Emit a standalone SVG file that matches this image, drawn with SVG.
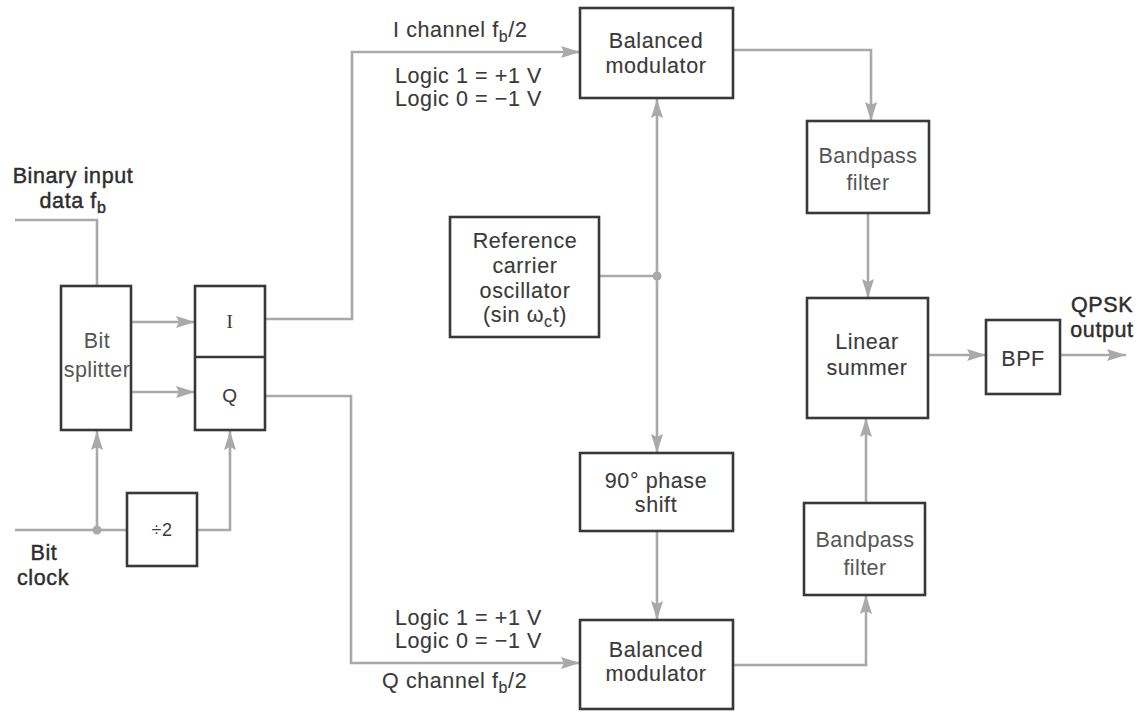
<svg xmlns="http://www.w3.org/2000/svg" width="1146" height="712" viewBox="0 0 1146 712">
<defs>
<style>
.box{fill:#fff;stroke:#383838;stroke-width:2.6}
.wire{fill:none;stroke:#a9a9a9;stroke-width:2.6}
.dot{fill:#a9a9a9}
text{font-family:"Liberation Sans",Arial,sans-serif;font-size:21.5px;letter-spacing:0.6px;fill:#3a3a3a;stroke:#3a3a3a;stroke-width:0.12}
.c{text-anchor:middle}
.hv{fill:#2e2e2e;stroke:#2e2e2e;stroke-width:0.45}
.lt{fill:#555;stroke:none;letter-spacing:0.4px}
.sub{font-size:16px}
</style>
<marker id="ah" markerUnits="userSpaceOnUse" markerWidth="22" markerHeight="14" refX="19" refY="6" orient="auto">
<path d="M0,0 L19,6 L0,12 L3,6 z" fill="#a9a9a9"/>
</marker>
</defs>
<rect width="1146" height="712" fill="#fff"/>

<g id="connectors">
<path class="wire" d="M15,220 H97 V286"/>
<path class="wire" d="M131,322 H195" marker-end="url(#ah)"/>
<path class="wire" d="M131,392 H195" marker-end="url(#ah)"/>
<path class="wire" d="M15,530 H127"/>
<path class="wire" d="M97,530 V431" marker-end="url(#ah)"/>
<circle class="dot" cx="97" cy="530" r="4.5"/>
<path class="wire" d="M197,530 H230 V431" marker-end="url(#ah)"/>
<path class="wire" d="M265,319 H352 V52 H580" marker-end="url(#ah)"/>
<path class="wire" d="M265,396 H351 V663 H580" marker-end="url(#ah)"/>
<path class="wire" d="M599,276 H657"/>
<circle class="dot" cx="657" cy="276" r="4.5"/>
<path class="wire" d="M657,276 V99" marker-end="url(#ah)"/>
<path class="wire" d="M657,276 V453" marker-end="url(#ah)"/>
<path class="wire" d="M657,531 V620" marker-end="url(#ah)"/>
<path class="wire" d="M733,50 H871 V121" marker-end="url(#ah)"/>
<path class="wire" d="M868,213 V298" marker-end="url(#ah)"/>
<path class="wire" d="M866,503 V418" marker-end="url(#ah)"/>
<path class="wire" d="M733,665 H866 V595" marker-end="url(#ah)"/>
<path class="wire" d="M928,355 H986" marker-end="url(#ah)"/>
<path class="wire" d="M1060,355 H1126" marker-end="url(#ah)"/>
</g>

<g id="labels">
<text class="c hv" x="73" y="183">Binary input</text>
<text class="c hv" x="73" y="208">data f<tspan class="sub" dy="5">b</tspan></text>
<text class="c hv" x="44" y="560">Bit</text>
<text class="c hv" x="43" y="585">clock</text>
<text x="393" y="37">I channel f<tspan class="sub" dy="5">b</tspan><tspan dy="-5">/2</tspan></text>
<text x="395" y="83">Logic 1 = +1 V</text>
<text x="395" y="106">Logic 0 = −1 V</text>
<text x="395" y="625">Logic 1 = +1 V</text>
<text x="395" y="648">Logic 0 = −1 V</text>
<text x="382" y="688">Q channel f<tspan class="sub" dy="5">b</tspan><tspan dy="-5">/2</tspan></text>
<text class="c hv" x="1102" y="312">QPSK</text>
<text class="c hv" x="1102" y="337">output</text>
</g>

<g id="bit-splitter">
<rect class="box" x="61" y="286" width="70" height="144"/>
<text class="c lt" x="97" y="348">Bit</text>
<text class="c lt" x="97" y="377">splitter</text>
</g>

<g id="iq-register">
<rect class="box" x="195" y="286" width="70" height="144"/>
<line x1="195" y1="357" x2="265" y2="357" stroke="#383838" stroke-width="2.6"/>
<text class="c" x="230" y="328" style="font-family:'Liberation Serif','Times New Roman',serif;font-size:19px">I</text>
<text class="c" x="230" y="402" style="font-size:19px">Q</text>
</g>

<g id="divide-by-2">
<rect class="box" x="127" y="493" width="70" height="73"/>
<text class="c" x="162" y="536" style="font-size:18px;stroke:none">÷2</text>
</g>

<g id="balanced-modulator-i">
<rect class="box" x="580" y="8" width="153" height="90"/>
<text class="c" x="656" y="48">Balanced</text>
<text class="c" x="656" y="73">modulator</text>
</g>

<g id="reference-oscillator">
<rect class="box" x="450" y="217" width="149" height="120"/>
<text class="c" x="525" y="248">Reference</text>
<text class="c" x="525" y="273">carrier</text>
<text class="c" x="525" y="298">oscillator</text>
<text class="c" x="525" y="322">(sin ω<tspan class="sub" dy="5">c</tspan><tspan dy="-5">t)</tspan></text>
</g>

<g id="phase-shift">
<rect class="box" x="580" y="453" width="153" height="78"/>
<text class="c" x="656" y="488">90° phase</text>
<text class="c" x="656" y="512">shift</text>
</g>

<g id="balanced-modulator-q">
<rect class="box" x="580" y="620" width="153" height="89"/>
<text class="c" x="656" y="657">Balanced</text>
<text class="c" x="656" y="681">modulator</text>
</g>

<g id="bandpass-filter-i">
<rect class="box" x="807" y="121" width="122" height="92"/>
<text class="c lt" x="868" y="163">Bandpass</text>
<text class="c lt" x="868" y="190">filter</text>
</g>

<g id="linear-summer">
<rect class="box" x="807" y="298" width="121" height="120"/>
<text class="c" x="867" y="349">Linear</text>
<text class="c" x="867" y="375">summer</text>
</g>

<g id="bandpass-filter-q">
<rect class="box" x="804" y="503" width="121" height="92"/>
<text class="c lt" x="865" y="547">Bandpass</text>
<text class="c lt" x="865" y="575">filter</text>
</g>

<g id="bpf">
<rect class="box" x="986" y="320" width="74" height="74"/>
<text class="c" x="1023" y="366">BPF</text>
</g>
</svg>
